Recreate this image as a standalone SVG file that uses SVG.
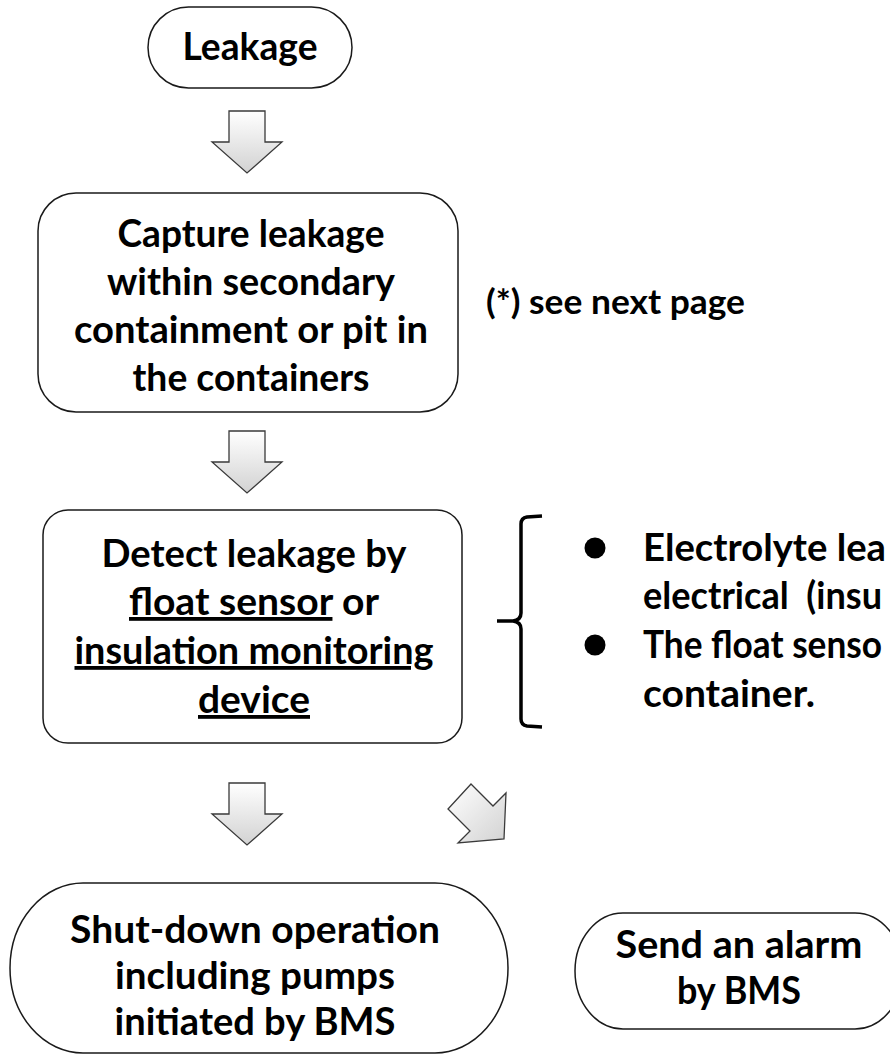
<svg xmlns="http://www.w3.org/2000/svg" width="890" height="1057" viewBox="0 0 890 1057">
  <defs>
    <linearGradient id="fillDown" x1="0" y1="0" x2="0" y2="1">
      <stop offset="0" stop-color="#ffffff"/>
      <stop offset="1" stop-color="#d2d2d2"/>
    </linearGradient>
    <linearGradient id="fillDiag" x1="0" y1="0" x2="1" y2="1">
      <stop offset="0" stop-color="#ffffff"/>
      <stop offset="1" stop-color="#d2d2d2"/>
    </linearGradient>
    <style>
      .node { fill: #ffffff; stroke: #1a1a1a; stroke-width: 1.5; }
      .arrow { fill: url(#fillDown); stroke: #3a3a3a; stroke-width: 1.3; stroke-linejoin: miter; }
      .arrow.diag { fill: url(#fillDiag); }
      .t { font-family: "Lato", "Liberation Sans", sans-serif; font-weight: 700; font-size: 38px; fill: #000000; }
      .note { font-size: 34px; }
      .c { text-anchor: middle; }
      .u { text-decoration: underline; }
      .brace { fill: none; stroke: #000000; stroke-width: 3.5; stroke-linecap: butt; stroke-linejoin: round; }
    </style>
  </defs>

  <rect width="890" height="1057" fill="#ffffff"/>

  <!-- block arrows between the steps -->
  <g id="connectors">
    <polygon class="arrow" points="229,111 265,111 265,142 282,142 247,173 212,142 229,142"/>
    <polygon class="arrow" points="229,431 265,431 265,462 282,462 247,493 212,462 229,462"/>
    <polygon class="arrow" points="229,783 265,783 265,814 282,814 247,845 212,814 229,814"/>
    <polygon class="arrow diag" points="471,784 493,806 506,793 504,839 458,843 470,831 448,809"/>
  </g>

  <g id="node-leakage">
    <rect class="node" x="148" y="7" width="204" height="81" rx="40.5" ry="40.5"/>
    <text class="t c" x="250" y="60" textLength="135" lengthAdjust="spacingAndGlyphs">Leakage</text>
  </g>

  <g id="node-capture">
    <rect class="node" x="38" y="193" width="420" height="219" rx="38" ry="38"/>
    <text class="t c" x="251" y="247" textLength="267" lengthAdjust="spacingAndGlyphs">Capture leakage</text>
    <text class="t c" x="251" y="295" textLength="288" lengthAdjust="spacingAndGlyphs">within secondary</text>
    <text class="t c" x="251" y="343" textLength="354" lengthAdjust="spacingAndGlyphs">containment or pit in</text>
    <text class="t c" x="251" y="391" textLength="237" lengthAdjust="spacingAndGlyphs">the containers</text>
  </g>

  <g id="node-note">
    <text class="t note" x="486" y="314" textLength="259" lengthAdjust="spacingAndGlyphs">(*) see next page</text>
  </g>

  <g id="node-detect">
    <rect class="node" x="43" y="510" width="419" height="233" rx="25" ry="25"/>
    <text class="t c" x="254" y="567" textLength="305" lengthAdjust="spacingAndGlyphs">Detect leakage by</text>
    <text class="t c" x="254" y="615" textLength="250" lengthAdjust="spacingAndGlyphs"><tspan class="u">float sensor</tspan> or</text>
    <text class="t c u" x="254" y="664" textLength="359" lengthAdjust="spacingAndGlyphs">insulation monitoring</text>
    <text class="t c u" x="254" y="713" textLength="112" lengthAdjust="spacingAndGlyphs">device</text>
  </g>

  <g id="node-detail">
    <path class="brace" d="M542,516 L527,517 Q521,518 521,524 L521,613 Q521,620 513,621 L497,621 M513,621 Q521,622 521,629 L521,719 Q521,725 527,726 L542,727"/>
    <circle cx="595" cy="548" r="10.5" fill="#000000"/>
    <circle cx="595" cy="645" r="10.5" fill="#000000"/>
    <text class="t" x="643" y="561" textLength="243" lengthAdjust="spacingAndGlyphs">Electrolyte lea</text>
    <text class="t" x="643" y="609" textLength="239" lengthAdjust="spacingAndGlyphs" xml:space="preserve">electrical  (insu</text>
    <text class="t" x="643" y="658" textLength="239" lengthAdjust="spacingAndGlyphs">The float senso</text>
    <text class="t" x="643" y="707" textLength="172" lengthAdjust="spacingAndGlyphs">container.</text>
  </g>

  <g id="node-shutdown">
    <rect class="node" x="10" y="883" width="498" height="170" rx="73" ry="85"/>
    <text class="t c" x="255" y="943" textLength="370" lengthAdjust="spacingAndGlyphs">Shut-down operation</text>
    <text class="t c" x="255" y="989" textLength="280" lengthAdjust="spacingAndGlyphs">including pumps</text>
    <text class="t c" x="255" y="1035" textLength="281" lengthAdjust="spacingAndGlyphs">initiated by BMS</text>
  </g>

  <g id="node-alarm">
    <rect class="node" x="575" y="913" width="328" height="116" rx="48" ry="58"/>
    <text class="t c" x="739" y="958" textLength="247" lengthAdjust="spacingAndGlyphs">Send an alarm</text>
    <text class="t c" x="739" y="1004" textLength="124" lengthAdjust="spacingAndGlyphs">by BMS</text>
  </g>
</svg>
